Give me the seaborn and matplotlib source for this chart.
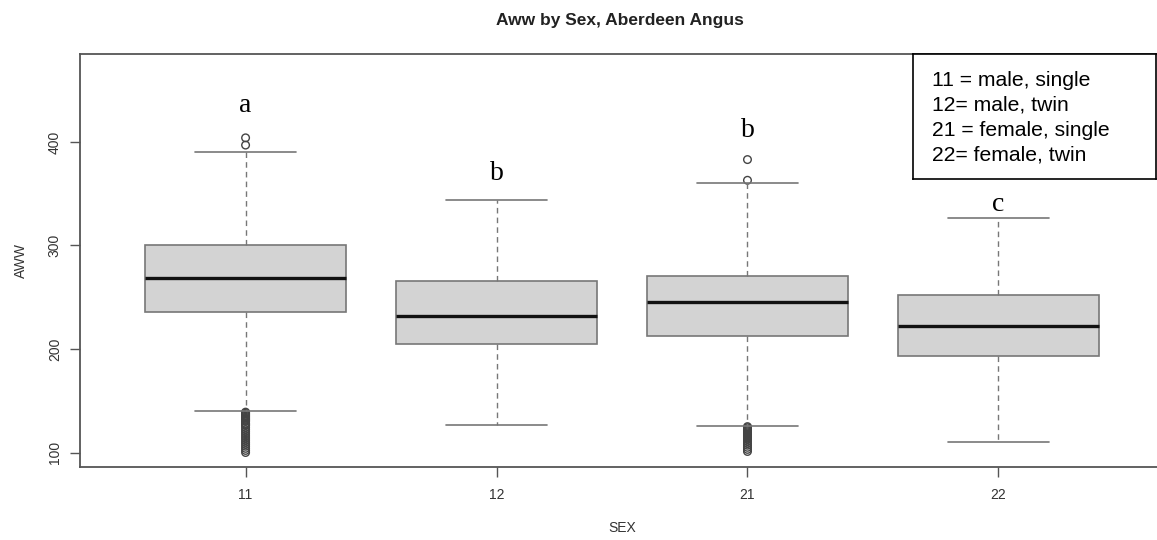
import matplotlib
matplotlib.use("Agg")
import matplotlib.pyplot as plt
import seaborn as sns
import pandas as pd

# Dados (AWW por SEX)
categorias = ["11", "12", "21", "22"]
bigode_inf = [140, 127, 126, 110]
q1 = [236, 205, 213, 193]
mediana = [269, 232, 245, 222]
q3 = [300, 266, 271, 252]
bigode_sup = [390, 344, 360, 327]
outliers = {
    "11": [397, 404, 139, 138, 137, 136, 135, 134, 133, 132, 131, 130, 128, 127,
           126, 124, 122, 120, 118, 116, 114, 112, 110, 108, 106, 104, 102, 100],
    "12": [],
    "21": [363, 383, 125, 124, 123, 122, 121, 120, 119, 118, 117, 116, 115, 114,
           113, 111, 109, 107, 105, 103, 101],
    "22": [],
}
letras = ["a", "b", "b", "c"]
letras_y = [429, 363, 405, 333]
legenda = ["11 = male, single", "12= male, twin", "21 = female, single", "22= female, twin"]

sns.set_theme(style="white")
plt.rcParams["font.family"] = ["Liberation Sans", "DejaVu Sans"]

fig = plt.figure(figsize=(11.57, 5.4), dpi=100)
ax = fig.add_axes([0.0691, 0.1352, 0.937, 0.7648])

# Estatísticas para o bxp
stats = []
for i, cat in enumerate(categorias):
    stats.append({
        "whislo": bigode_inf[i], "q1": q1[i], "med": mediana[i],
        "q3": q3[i], "whishi": bigode_sup[i], "fliers": [], "label": cat,
    })

ax.bxp(
    stats, positions=range(len(categorias)), widths=0.8, showfliers=False,
    patch_artist=True,
    boxprops=dict(facecolor="#d3d3d3", edgecolor="#777777", linewidth=1.2),
    medianprops=dict(color="#111111", linewidth=2.4),
    whiskerprops=dict(color="#777777", linestyle=(0, (4, 3)), linewidth=1),
    capprops=dict(color="#777777", linewidth=1.2),
    capwidths=0.4,
)

# Outliers
df_out = pd.DataFrame(
    [(categorias.index(c), v) for c, vals in outliers.items() for v in vals],
    columns=["pos", "AWW"],
)
sns.scatterplot(data=df_out, x="pos", y="AWW", ax=ax, marker="o", s=30,
                facecolor="none", edgecolor="#444444", linewidth=1, legend=False)

# Letras de significância
for i, (l, y) in enumerate(zip(letras, letras_y)):
    ax.text(i, y, l, ha="center", va="baseline", fontsize=20,
            family=["Liberation Serif", "DejaVu Serif"], color="black")

ax.set_xlim(-0.66, 3.66)
ax.set_ylim(86, 485)
ax.set_xticks(range(len(categorias)))
ax.set_xticklabels(categorias)
ax.set_yticks([100, 200, 300, 400])
ax.set_yticklabels(["100", "200", "300", "400"], rotation=90, va="center")
ax.tick_params(axis="both", direction="out", length=7, width=1, color="#555555",
               labelsize=10, labelcolor="#333333", pad=8, bottom=True, left=True)
ax.tick_params(axis="y", pad=6)
for s in ax.spines.values():
    s.set_color("#555555")
    s.set_linewidth(1.3)

ax.set_xlabel("SEX", fontsize=10, color="#333333", labelpad=14)
ax.set_ylabel("AWW", fontsize=10, color="#333333", labelpad=14)
fig.suptitle("Aww by Sex, Aberdeen Angus", fontsize=12.5, fontweight="bold",
             x=0.536, y=0.975, color="#222222")

# Caixa de legenda (texto)
ax_leg = fig.add_axes([913 / 1157, 1 - 179 / 540, 243 / 1157, 125 / 540])
ax_leg.set_xticks([])
ax_leg.set_yticks([])
for s in ax_leg.spines.values():
    s.set_color("black")
    s.set_linewidth(1.2)
for k, t in enumerate(legenda):
    ax_leg.text(0.078, 0.79 - k * 0.2, t, fontsize=15.2, va="center", ha="left",
                transform=ax_leg.transAxes, color="black")

fig.savefig("out.png", dpi=100)
